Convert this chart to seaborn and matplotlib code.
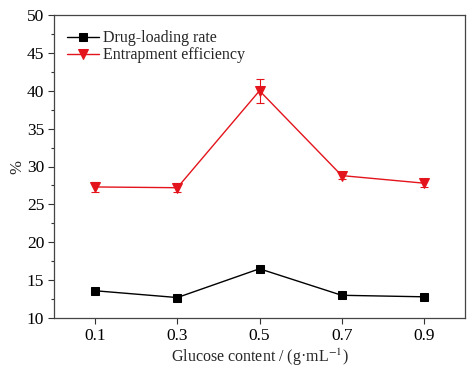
import matplotlib
matplotlib.use("Agg")
import matplotlib.pyplot as plt
import seaborn as sns
import pandas as pd
from matplotlib.ticker import MultipleLocator

glucose = [0.1, 0.3, 0.5, 0.7, 0.9]
drug_loading = [13.6, 12.7, 16.5, 13.0, 12.8]
drug_loading_err = [0.25, 0.2, 0.25, 0.3, 0.2]
entrapment = [27.3, 27.2, 40.0, 28.8, 27.8]
entrapment_err = [0.7, 0.6, 1.6, 0.4, 0.5]

sns.set_theme(style="white")
plt.rcParams['font.family'] = ['Liberation Serif', 'DejaVu Serif']
plt.rcParams['mathtext.fontset'] = 'stix'

fig = plt.figure(figsize=(4.74, 3.70), dpi=100)
ax = fig.add_axes([0.114, 0.1405, 0.867, 0.819])

red = '#e3141c'
df1 = pd.DataFrame({'x': glucose, 'y': drug_loading})
df2 = pd.DataFrame({'x': glucose, 'y': entrapment})

ax.errorbar(glucose, drug_loading, yerr=drug_loading_err, fmt='none', ecolor='black',
            elinewidth=0.8, capsize=3, capthick=0.8, zorder=2)
ax.errorbar(glucose, entrapment, yerr=entrapment_err, fmt='none', ecolor=red,
            elinewidth=0.8, capsize=3, capthick=0.8, zorder=2)
sns.lineplot(data=df1, x='x', y='y', ax=ax, color='black', marker='s', markersize=6,
             markeredgecolor='black', linewidth=1.0, label='Drug-loading rate', zorder=3)
sns.lineplot(data=df2, x='x', y='y', ax=ax, color=red, marker='v', markersize=7.5,
             markeredgecolor=red, linewidth=1.0, label='Entrapment efficiency', zorder=3)

ax.set_xlim(0.0, 1.0)
ax.set_ylim(10, 50)
ax.set_xticks(glucose)
ax.set_xticklabels(['0.1', '0.3', '0.5', '0.7', '0.9'])
ax.yaxis.set_major_locator(MultipleLocator(5))
ax.yaxis.set_minor_locator(MultipleLocator(2.5))
ax.tick_params(axis='both', which='major', direction='out', length=4, width=0.8,
               labelsize=12.5, colors='#333333', labelcolor='black', left=True, bottom=True,
               pad=3)
ax.tick_params(axis='y', which='minor', direction='out', length=2, width=0.8,
               colors='#333333', left=True)
for s in ax.spines.values():
    s.set_color('#444444')
    s.set_linewidth(0.9)

ax.set_xlabel('Glucose content / (g·mL$^{-1}$)', fontsize=11.5, labelpad=2)
ax.set_ylabel('%', fontsize=12, labelpad=1)

leg = ax.legend(loc='upper left', frameon=False, fontsize=11.5, handlelength=2.0,
                handletextpad=0.3, labelspacing=0.05, borderaxespad=0.0,
                bbox_to_anchor=(0.015, 0.97))

fig.savefig('out.png', dpi=100)
